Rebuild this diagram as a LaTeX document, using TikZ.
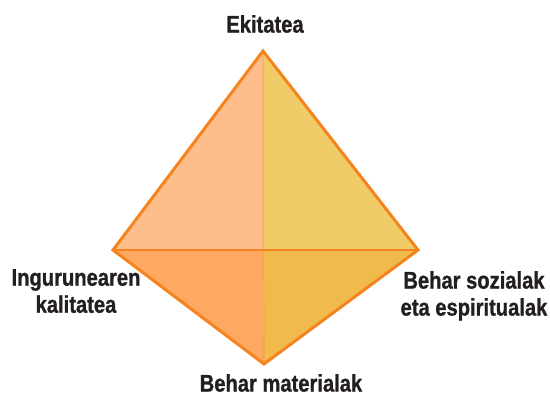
\documentclass[tikz,border=0pt]{standalone}
\usepackage{fontspec}
\setmainfont{Liberation Sans}[FakeStretch=0.84,BoldFeatures={FakeBold=1}]
\definecolor{dmPeach}{HTML}{FEBE8C}
\definecolor{dmSun}{HTML}{EFCC68}
\definecolor{dmOrange}{HTML}{FEA862}
\definecolor{dmAmber}{HTML}{F0BB4C}
\definecolor{dmEdge}{HTML}{F5841F}
\definecolor{dmInk}{HTML}{231F20}

\begin{document}
\begin{tikzpicture}[x=1pt,y=-1pt,font=\fontsize{24}{27}\selectfont\bfseries,
  dmLabel/.style={text=dmInk,inner sep=0pt,anchor=north,align=center}]
  \useasboundingbox (0,0) rectangle (550,396);
  \coordinate (top) at (263,51);
  \coordinate (left) at (113,250);
  \coordinate (right) at (418,250);
  \coordinate (bottom) at (264,364);
  \coordinate (mid) at (263,250);
  % four faces
  \fill[dmPeach] (top) -- (left) -- (mid) -- cycle;
  \fill[dmSun] (top) -- (mid) -- (right) -- cycle;
  \fill[dmOrange] (left) -- (bottom) -- (mid) -- cycle;
  \fill[dmAmber] (mid) -- (bottom) -- (right) -- cycle;
  \draw[dmEdge,line width=2pt,opacity=0.25] (top) -- (mid) -- (bottom);
  \draw[dmEdge,line width=2.2pt] (left) -- (right);
  \draw[dmEdge,line width=3pt] (top) -- (right) -- (bottom) -- (left) -- cycle;
  % labels
  \node[dmLabel] (ekitatea) at (265,15) {Ekitatea};
  \node[dmLabel] (ingurunea) at (76,269) {Ingurunearen\\kalitatea};
  \node[dmLabel] (sozialak) at (474,271) {Behar sozialak\\eta espiritualak};
  \node[dmLabel] (materialak) at (281,374) {Behar materialak};
\end{tikzpicture}
\end{document}
